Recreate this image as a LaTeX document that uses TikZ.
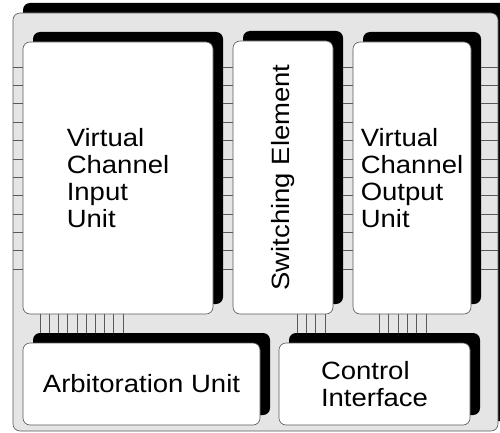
\documentclass[tikz,border=0pt]{standalone}
\usepackage{fontspec}
\setmainfont{Liberation Sans}[FakeStretch=1.1]
\usetikzlibrary{shadows}

\tikzset{
    unit/.style = {draw = black!65, line width = 0.6, fill = white, rounded corners = 7,
                   general shadow = {fill = black, shadow xshift = 10pt, shadow yshift = 10pt},
                   inner sep = 0, align = left, font = \fontsize{25}{27}\selectfont},
    wire/.style = {draw = black!65, line width = 0.6}
}

\begin{document}
\begin{tikzpicture}[x = 1pt, y = -1pt]
    \useasboundingbox (0,0) rectangle (500,433);

    \node [unit, fill = black!10, minimum width = 485, minimum height = 418] (router) at (255.5,222) {};

    \node [unit, minimum width = 190, minimum height = 272] (vciu)   at (118,178)   {Virtual\\Channel\\Input\\Unit};
    \node [unit, minimum width = 100, minimum height = 273] (switch) at (283,177.5) {\rotatebox{90}{Switching Element}};
    \node [unit, minimum width = 118, minimum height = 272] (vcou)   at (412,178)   {Virtual\\Channel\\Output\\Unit};
    \node [unit, minimum width = 237, minimum height = 82]  (arb)    at (141.5,384) {Arbitoration Unit};
    \node [unit, minimum width = 191, minimum height = 82]  (ctrl)   at (374.5,384) {Control\\Interface};

    % side ports
    \foreach \i [evaluate = \i as \y using 67+18.36*\i] in {0,...,11} {
        \draw [wire] (router.west |- 0,\y) -- (vciu.west |- 0,\y);
        \draw [wire] ([xshift = 10pt]vciu.east |- 0,\y) -- (switch.west |- 0,\y);
        \draw [wire] ([xshift = 10pt]switch.east |- 0,\y) -- (vcou.west |- 0,\y);
        \draw [wire] ([xshift = 10pt]vcou.east |- 0,\y) -- (router.east |- 0,\y);
    }

    % buses down to arbitration and control
    \foreach \i [evaluate = \i as \x using 40+9.2*\i] in {0,...,9}
        \draw [wire] (vciu.south -| \x,0) -- ([yshift = 10pt]arb.north -| \x,0);
    \foreach \i [evaluate = \i as \x using 297+9.33*\i] in {0,...,3}
        \draw [wire] (switch.south -| \x,0) -- ([yshift = 10pt]ctrl.north -| \x,0);
    \foreach \i [evaluate = \i as \x using 379+9.4*\i] in {0,...,5}
        \draw [wire] (vcou.south -| \x,0) -- ([yshift = 10pt]ctrl.north -| \x,0);
\end{tikzpicture}
\end{document}
